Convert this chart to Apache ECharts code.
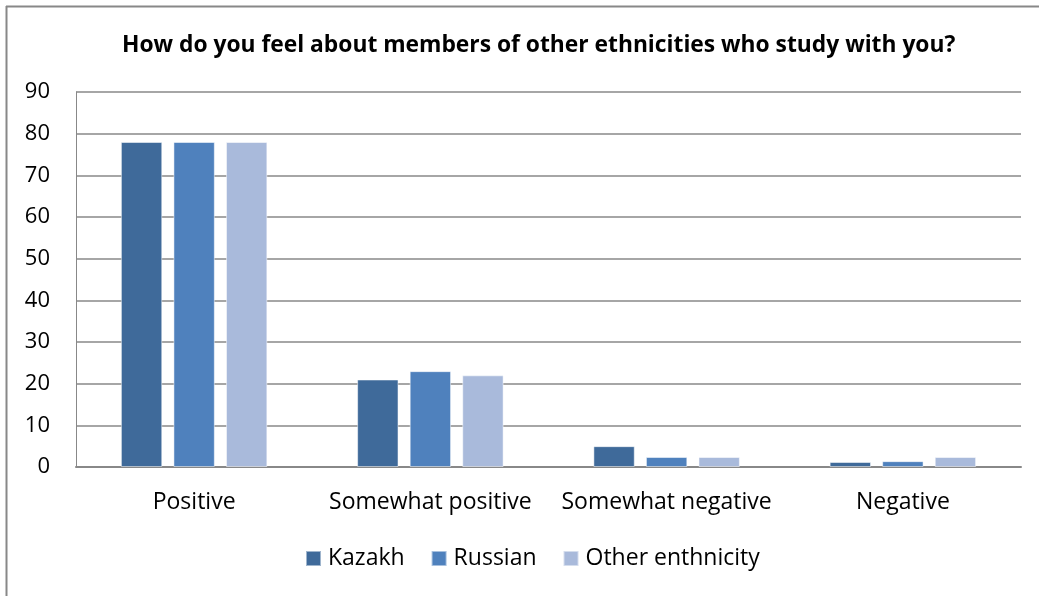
<!DOCTYPE html>
<html>
<head>
<meta charset="utf-8">
<script src="https://cdn.jsdelivr.net/npm/echarts@6/dist/echarts.min.js"></script>
<style>html,body{margin:0;padding:0;background:#fff}#c{width:1039px;height:596px}</style>
</head>
<body>
<div id="c"></div>
<script>
const titleText = 'How do you feel about members of other ethnicities who study with you?';
const categories = ['Positive', 'Somewhat positive', 'Somewhat negative', 'Negative'];
const seriesNames = ['Kazakh', 'Russian', 'Other enthnicity'];
const kazakh = [78, 21, 5, 1.2];
const russian = [78, 23, 2.4, 1.4];
const other = [78, 22, 2.4, 2.4];
const colors = ['#3F6A9A', '#4F81BD', '#A9BADB'];

const font = '"Open Sans", Lato, sans-serif';
const chart = echarts.init(document.getElementById('c'), null, {renderer: 'canvas'});
const dataSets = [kazakh, russian, other];
chart.setOption({
  animation: false,
  backgroundColor: '#fff',
  title: {
    text: titleText, left: 117, top: 29,
    textStyle: {fontFamily: font, fontSize: 22.8, fontWeight: 'bold', color: '#000'}
  },
  legend: {
    data: seriesNames, bottom: 21, left: 300,
    itemWidth: 15, itemHeight: 15, itemGap: 26,
    icon: 'rect',
    textStyle: {fontFamily: font, fontSize: 23, color: '#000', padding: [0, 0, 0, 2]}
  },
  grid: {left: 76, right: 18, top: 92, bottom: 129},
  xAxis: {
    type: 'category', data: categories,
    axisLine: {show: true, lineStyle: {color: '#888', width: 2}},
    axisTick: {show: false},
    axisLabel: {fontFamily: font, fontSize: 23, color: '#000', margin: 24, interval: 0}
  },
  yAxis: {
    type: 'value', min: 0, max: 90, interval: 10,
    axisLine: {show: true, lineStyle: {color: '#888', width: 1}},
    axisTick: {show: false},
    axisLabel: {fontFamily: font, fontSize: 22, color: '#000', margin: 26},
    splitLine: {lineStyle: {color: '#888', width: 1.5}}
  },
  series: seriesNames.map((n, i) => ({
    name: n, type: 'bar', data: dataSets[i],
    barGap: '27%', barCategoryGap: '38%',
    itemStyle: {color: colors[i], borderColor: 'rgba(255,255,255,0.5)', borderWidth: 1}
  })),
  graphic: [
    {type: 'line', shape: {x1: 6.5, y1: 6, x2: 6.5, y2: 596}, style: {stroke: '#888', lineWidth: 2}},
    {type: 'line', shape: {x1: 6, y1: 6.5, x2: 1039, y2: 6.5}, style: {stroke: '#888', lineWidth: 2}}
  ]
});
</script>
</body>
</html>
